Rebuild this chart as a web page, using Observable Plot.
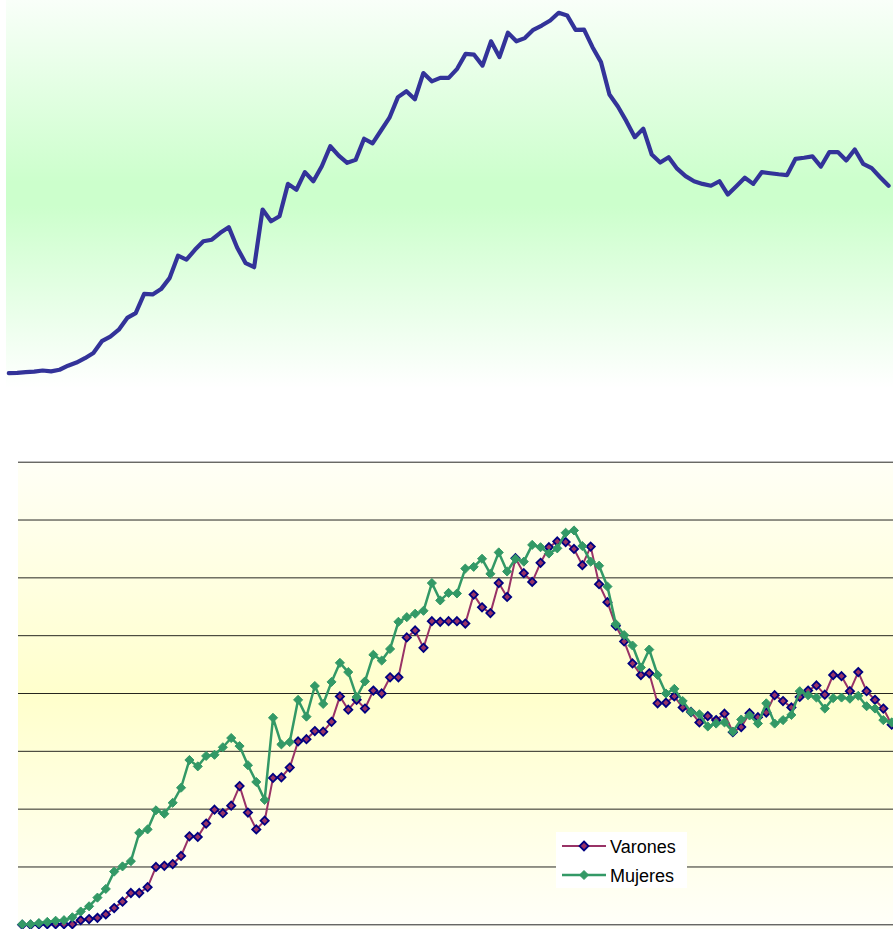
<!DOCTYPE html>
<html>
<head>
<meta charset="utf-8">
<script src="https://cdn.jsdelivr.net/npm/d3@7"></script>
<script src="https://cdn.jsdelivr.net/npm/@observablehq/plot@0.6"></script>
<style>
  body { margin: 0; background: #fff; width: 893px; height: 929px; overflow: hidden; position: relative;
         font-family: "Liberation Sans", Arial, sans-serif; }
  #topbg { position: absolute; left: 6px; top: 0; width: 887px; height: 388px;
           background: linear-gradient(to bottom, #f9fff9 0%, #ccffcc 47%, #ccffcc 53%, #ffffff 100%); }
  #botbg { position: absolute; left: 18px; top: 462px; width: 875px; height: 467px;
           background: linear-gradient(to bottom, #fffff6 0%, #ffffcc 50%, #fffff9 100%); }
  #top { position: absolute; left: 0; top: 0; }
  #bot { position: absolute; left: 0; top: 440px; }
  #legend { position: absolute; left: 556px; top: 832px; width: 131px; height: 56px; background: #fff; }
  #legend .lab { position: absolute; left: 54px; font-size: 18px; line-height: 20px; color: #000; white-space: nowrap; }
</style>
</head>
<body>
<div id="topbg"></div>
<div id="botbg"></div>
<div id="top"></div>
<div id="bot"></div>
<div id="legend"></div>
<script>
// ---- data ----
const periodos = Array.from({length: 105}, (_, i) => i + 1);

const total = [0.03,0.04,0.07,0.09,0.13,0.10,0.16,0.31,0.43,0.59,
  0.79,1.23,1.40,1.66,2.10,2.28,3.00,2.98,3.18,3.59,
  4.43,4.28,4.65,4.97,5.03,5.29,5.50,4.73,4.15,4.00,
  6.16,5.72,5.91,7.12,6.90,7.56,7.22,7.78,8.53,8.18,
  7.91,8.02,8.81,8.64,9.12,9.60,10.37,10.59,10.29,11.27,
  10.96,11.09,11.09,11.43,11.99,11.96,11.55,12.46,11.87,12.78,
  12.46,12.58,12.89,13.05,13.24,13.53,13.43,12.89,12.90,12.24,
  11.68,10.47,10.02,9.47,8.87,9.19,8.22,7.92,8.12,7.69,
  7.41,7.22,7.12,7.05,7.22,6.72,7.03,7.35,7.12,7.56,
  7.52,7.48,7.45,8.06,8.10,8.15,7.77,8.31,8.31,8.00,
  8.41,7.87,7.71,7.37,7.05];

const varones = [0.00,0.00,0.01,0.01,0.01,0.01,0.01,0.08,0.10,0.12,
  0.18,0.29,0.40,0.55,0.55,0.65,1.00,1.02,1.05,1.19,
  1.53,1.52,1.75,1.99,1.93,2.06,2.40,1.94,1.65,1.80,
  2.54,2.55,2.72,3.17,3.21,3.35,3.34,3.51,3.95,3.72,
  3.89,3.74,4.05,4.00,4.28,4.28,4.97,5.09,4.79,5.25,
  5.24,5.25,5.25,5.21,5.71,5.49,5.39,5.91,5.67,6.34,
  6.08,5.93,6.26,6.53,6.63,6.62,6.50,6.22,6.54,5.89,
  5.58,5.17,4.90,4.52,4.32,4.35,3.83,3.84,3.95,3.76,
  3.68,3.50,3.61,3.54,3.65,3.33,3.42,3.66,3.59,3.67,
  3.97,3.87,3.76,3.94,4.05,4.14,3.98,4.32,4.30,4.04,
  4.37,4.04,3.89,3.74,3.46];

const mujeres = [0.01,0.01,0.03,0.05,0.07,0.08,0.13,0.23,0.32,0.47,
  0.62,0.92,1.01,1.10,1.59,1.65,1.98,1.92,2.11,2.37,
  2.85,2.74,2.92,2.94,3.07,3.23,3.09,2.76,2.47,2.16,
  3.58,3.12,3.16,3.89,3.60,4.13,3.82,4.20,4.53,4.37,
  3.94,4.21,4.67,4.57,4.77,5.24,5.32,5.38,5.43,5.91,
  5.61,5.74,5.73,6.16,6.19,6.33,6.07,6.44,6.11,6.33,
  6.28,6.57,6.53,6.42,6.51,6.78,6.82,6.55,6.28,6.21,
  5.85,5.20,5.01,4.83,4.45,4.76,4.32,4.00,4.08,3.87,
  3.68,3.64,3.43,3.48,3.50,3.34,3.55,3.62,3.48,3.83,
  3.48,3.54,3.63,4.04,3.97,3.93,3.74,3.92,3.93,3.91,
  3.96,3.78,3.74,3.54,3.50];

const seriesNames = ["Varones", "Mujeres"];
const gridValues = [0, 1, 2, 3, 4, 5, 6, 7, 8];

// ---- styles ----
const styles = {
  Varones: {line: "#993366", fill: "#993366", stroke: "#000080", lw: 2, r: 3.7, sw: 1.8},
  Mujeres: {line: "#339966", fill: "#339966", stroke: "#339966", lw: 2.5, r: 4.1, sw: 1}
};

// ---- tables ----
const totalRows = periodos.map((p, i) => ({periodo: p, valor: total[i]}));
const vRows = periodos.map((p, i) => ({periodo: p, valor: varones[i]}));
const mRows = periodos.map((p, i) => ({periodo: p, valor: mujeres[i]}));

// ---- top chart ----
const topChart = Plot.plot({
  width: 893, height: 390, margin: 0,
  style: {background: "transparent", overflow: "visible"},
  x: {type: "linear", domain: [1, 105], range: [8.3, 888.1], axis: null},
  y: {domain: [0, 14], range: [373.5, -0.3], axis: null},
  marks: [
    Plot.line(totalRows, {x: "periodo", y: "valor", stroke: "#333399", strokeWidth: 4.2,
      strokeLinejoin: "round", strokeLinecap: "round"})
  ]
});
document.getElementById("top").append(topChart);

// ---- bottom chart ----
const sv = styles.Varones, sm = styles.Mujeres;
const botChart = Plot.plot({
  width: 893, height: 489,
  marginLeft: 18, marginRight: 0, marginTop: 21, marginBottom: 4,
  style: {background: "transparent", overflow: "visible"},
  x: {type: "linear", domain: [1, 105], range: [21.7, 891.2], axis: null},
  y: {domain: [0, 8], range: [484.3, 21.7], axis: null},
  marks: [
    Plot.ruleY(gridValues, {stroke: "#000", strokeWidth: 1, strokeOpacity: 0.85}),
    Plot.line(vRows, {x: "periodo", y: "valor", stroke: sv.line, strokeWidth: sv.lw}),
    Plot.dot(vRows, {x: "periodo", y: "valor", symbol: "diamond2", r: sv.r,
      fill: sv.fill, stroke: sv.stroke, strokeWidth: sv.sw}),
    Plot.line(mRows, {x: "periodo", y: "valor", stroke: sm.line, strokeWidth: sm.lw}),
    Plot.dot(mRows, {x: "periodo", y: "valor", symbol: "diamond2", r: sm.r,
      fill: sm.fill, stroke: sm.stroke, strokeWidth: sm.sw})
  ]
});
document.getElementById("bot").append(botChart);

// ---- legend ----
const legend = document.getElementById("legend");
const NS = "http://www.w3.org/2000/svg";
const lsvg = document.createElementNS(NS, "svg");
lsvg.setAttribute("width", 131); lsvg.setAttribute("height", 56);
lsvg.style.position = "absolute"; lsvg.style.left = "0"; lsvg.style.top = "0";
legend.append(lsvg);
seriesNames.forEach((name, k) => {
  const st = styles[name];
  const cy = 14 + k * 29;
  const ln = document.createElementNS(NS, "line");
  ln.setAttribute("x1", 6); ln.setAttribute("x2", 50); ln.setAttribute("y1", cy); ln.setAttribute("y2", cy);
  ln.setAttribute("stroke", st.line); ln.setAttribute("stroke-width", st.lw);
  lsvg.append(ln);
  const h = 4.5;
  const dm = document.createElementNS(NS, "path");
  dm.setAttribute("d", `M28,${cy - h}L${28 + h},${cy}L28,${cy + h}L${28 - h},${cy}Z`);
  dm.setAttribute("fill", st.fill); dm.setAttribute("stroke", st.stroke); dm.setAttribute("stroke-width", st.sw);
  lsvg.append(dm);
  const lab = document.createElement("div");
  lab.className = "lab";
  lab.style.top = (4.5 + k * 29) + "px";
  lab.textContent = name;
  legend.append(lab);
});
</script>
</body>
</html>
